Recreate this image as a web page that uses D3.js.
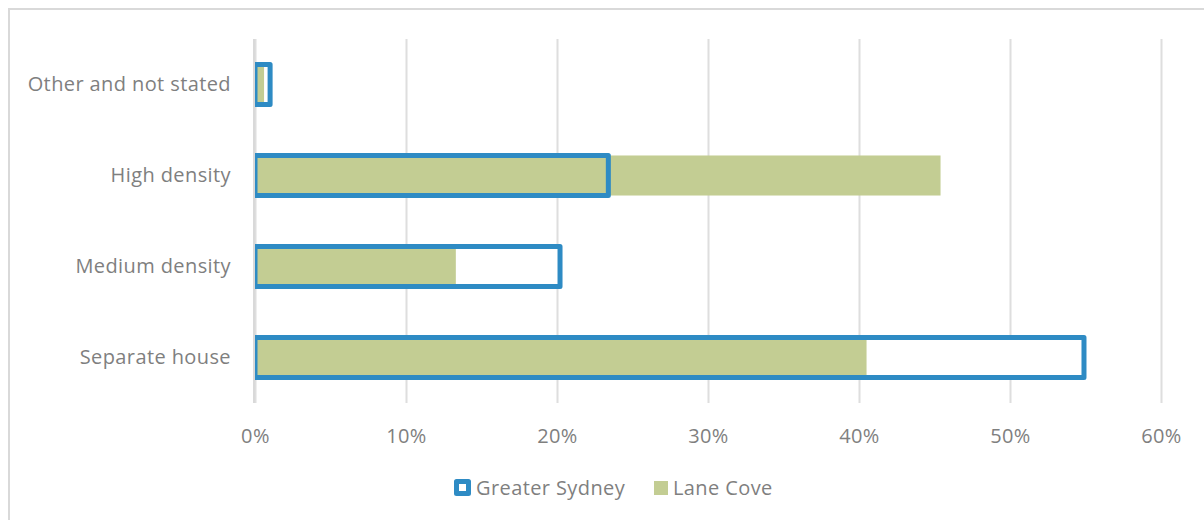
<!DOCTYPE html>
<html>
<head>
<meta charset="utf-8">
<script src="https://cdn.jsdelivr.net/npm/d3@7"></script>
<style>
  body { margin: 0; background: #fff; }
  text { font-family: "Open Sans", sans-serif; fill: #7f7f7f; letter-spacing: 0.4px; }
</style>
</head>
<body>
<div id="chart"></div>
<script>
// data
const categories = ['Other and not stated', 'High density', 'Medium density', 'Separate house'];
const greaterSydney = [0.010, 0.234, 0.202, 0.549];
const laneCove = [0.006, 0.454, 0.133, 0.405];
const tickValues = [0, 0.1, 0.2, 0.3, 0.4, 0.5, 0.6];
const seriesNames = ['Greater Sydney', 'Lane Cove'];

// settings
const width = 1204, height = 520;
const plot = { left: 255, right: 1161, top: 39, bottom: 403 };
const fontSize = 20;
const blue = '#2e8bc4';
const green = '#c3cd93';
const grid = '#dedede';

const rows = categories.map((c, i) => ({ cat: c, gs: greaterSydney[i], lc: laneCove[i] }));

const svg = d3.select('#chart').append('svg')
  .attr('width', width)
  .attr('height', height);

// outer chart border
svg.append('rect')
  .attr('x', 9).attr('y', 9)
  .attr('width', 1210).attr('height', 530)
  .attr('fill', 'none')
  .attr('stroke', '#d9d9d9')
  .attr('stroke-width', 2);

const x = d3.scaleLinear().domain([0, 0.6]).range([plot.left, plot.right]);
const y = d3.scaleBand()
  .domain(categories)
  .range([plot.top, plot.bottom])
  .paddingInner(0.56)
  .paddingOuter(0.28);

// gridlines + tick labels
const xAxis = d3.axisBottom(x)
  .tickValues(tickValues)
  .tickFormat(d3.format('.0%'))
  .tickSize(-(plot.bottom - plot.top))
  .tickPadding(26);
const xg = svg.append('g')
  .attr('transform', `translate(0,${plot.bottom})`)
  .call(xAxis);
xg.select('.domain').remove();
xg.selectAll('line').attr('stroke', grid).attr('stroke-width', 2);
xg.selectAll('text')
  .attr('font-size', fontSize)
  .attr('fill', '#7f7f7f');

// clip bars to the plot area
svg.append('clipPath').attr('id', 'plotClip')
  .append('rect')
  .attr('x', plot.left).attr('y', 0)
  .attr('width', plot.right - plot.left + 20).attr('height', height);

const bars = svg.append('g').attr('clip-path', 'url(#plotClip)');

// Greater Sydney: white fill under, outline on top of Lane Cove
bars.selectAll('.gsFill')
  .data(rows)
  .join('rect')
  .attr('class', 'gsFill')
  .attr('x', x(0))
  .attr('y', d => y(d.cat))
  .attr('width', d => x(d.gs) - x(0))
  .attr('height', y.bandwidth())
  .attr('fill', '#fff');

bars.selectAll('.lc')
  .data(rows)
  .join('rect')
  .attr('class', 'lc')
  .attr('x', x(0))
  .attr('y', d => y(d.cat))
  .attr('width', d => x(d.lc) - x(0))
  .attr('height', y.bandwidth())
  .attr('fill', green);

bars.selectAll('.gsLine')
  .data(rows)
  .join('rect')
  .attr('class', 'gsLine')
  .attr('x', x(0))
  .attr('y', d => y(d.cat))
  .attr('width', d => x(d.gs) - x(0))
  .attr('height', y.bandwidth())
  .attr('fill', 'none')
  .attr('stroke', blue)
  .attr('stroke-width', 5)
  .attr('stroke-linejoin', 'round');

// category labels
const yAxis = d3.axisLeft(y).tickSize(0).tickPadding(24);
const yg = svg.append('g')
  .attr('transform', `translate(${plot.left},0)`)
  .call(yAxis);
yg.select('.domain').remove();
yg.selectAll('text')
  .attr('font-size', fontSize)
  .attr('fill', '#7f7f7f');

// zero axis line
svg.append('line')
  .attr('x1', x(0) - 1).attr('x2', x(0) - 1)
  .attr('y1', plot.top).attr('y2', plot.bottom)
  .attr('stroke', '#d9d9d9')
  .attr('stroke-width', 2);

// legend
const legend = svg.append('g').attr('transform', 'translate(0,488)');
legend.append('rect')
  .attr('x', 456.5).attr('y', -6.5)
  .attr('width', 12).attr('height', 12)
  .attr('fill', '#fff')
  .attr('stroke', blue)
  .attr('stroke-width', 5)
  .attr('stroke-linejoin', 'round');
legend.append('text')
  .attr('x', 476).attr('dy', '0.35em')
  .attr('font-size', fontSize)
  .text(seriesNames[0]);
legend.append('rect')
  .attr('x', 654).attr('y', -7)
  .attr('width', 14).attr('height', 14)
  .attr('fill', green);
legend.append('text')
  .attr('x', 673).attr('dy', '0.35em')
  .attr('font-size', fontSize)
  .text(seriesNames[1]);
</script>
</body>
</html>
